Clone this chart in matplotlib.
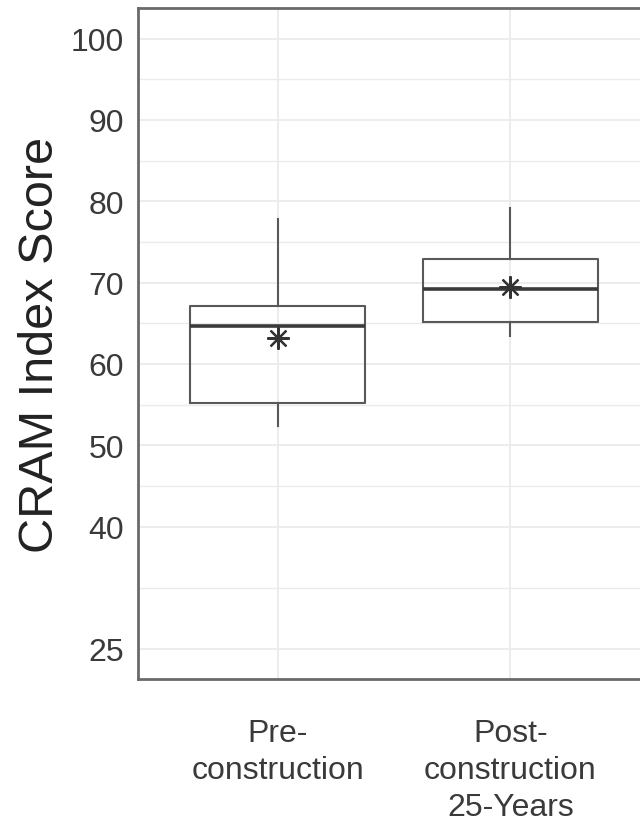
import matplotlib
matplotlib.use("Agg")
import matplotlib.pyplot as plt

plt.rcParams["font.family"] = ["Liberation Sans", "DejaVu Sans"]

# data
groups = ["Pre-\nconstruction", "Post-\nconstruction\n25-Years"]
whisker_low = [52.3, 63.4]
q1 = [55.2, 65.1]
medians = [64.6, 69.2]
q3 = [67.1, 72.9]
whisker_high = [77.8, 79.1]
means = [63.2, 69.4]

y_ticks = [25, 40, 50, 60, 70, 80, 90, 100]
y_minor = [32.5, 45, 55, 65, 75, 85, 95]

stats = []
for i in range(len(groups)):
    stats.append({
        "whislo": whisker_low[i], "q1": q1[i], "med": medians[i],
        "q3": q3[i], "whishi": whisker_high[i], "mean": means[i],
        "fliers": [],
    })

fig = plt.figure(figsize=(6.4, 8.29), dpi=100)
# right edge of the panel runs just past the figure edge, as in the reference
ax = fig.add_axes([138 / 640, 1 - 680 / 829, (650 - 138) / 640, (680 - 9) / 829])

pos = list(range(1, len(groups) + 1))
ax.bxp(stats, positions=pos, widths=0.75, showmeans=True, showcaps=False,
       boxprops=dict(color="#595959", linewidth=1.5),
       whiskerprops=dict(color="#595959", linewidth=1.5),
       medianprops=dict(color="#3a3a3a", linewidth=2.6),
       meanprops=dict(marker=(8, 2, 0), markersize=16, markeredgecolor="#333333",
                      markeredgewidth=1.6, markerfacecolor="none"),
       zorder=3)

ax.set_xlim(0.4, 2.6)
ax.set_ylim(21.25, 103.75)
ax.set_xticks(pos)
ax.set_xticklabels(groups, fontsize=23, color="#3a3a3a", linespacing=1.3)
ax.set_yticks(y_ticks)
ax.set_yticklabels([str(t) for t in y_ticks], fontsize=23, color="#3a3a3a")
ax.set_yticks(y_minor, minor=True)
ax.tick_params(axis="both", which="both", length=0)
ax.tick_params(axis="y", pad=10)
ax.tick_params(axis="x", pad=28)

ax.grid(True, which="major", color="#ebebeb", linewidth=1.3, zorder=0)
ax.grid(True, which="minor", axis="y", color="#ebebeb", linewidth=1.0, zorder=0)
ax.set_axisbelow(True)

for s in ax.spines.values():
    s.set_color("#6a6a6a")
    s.set_linewidth(2)

ax.set_ylabel("CRAM Index Score", fontsize=35, color="#222222", labelpad=6)

fig.savefig("out.png", dpi=100)
